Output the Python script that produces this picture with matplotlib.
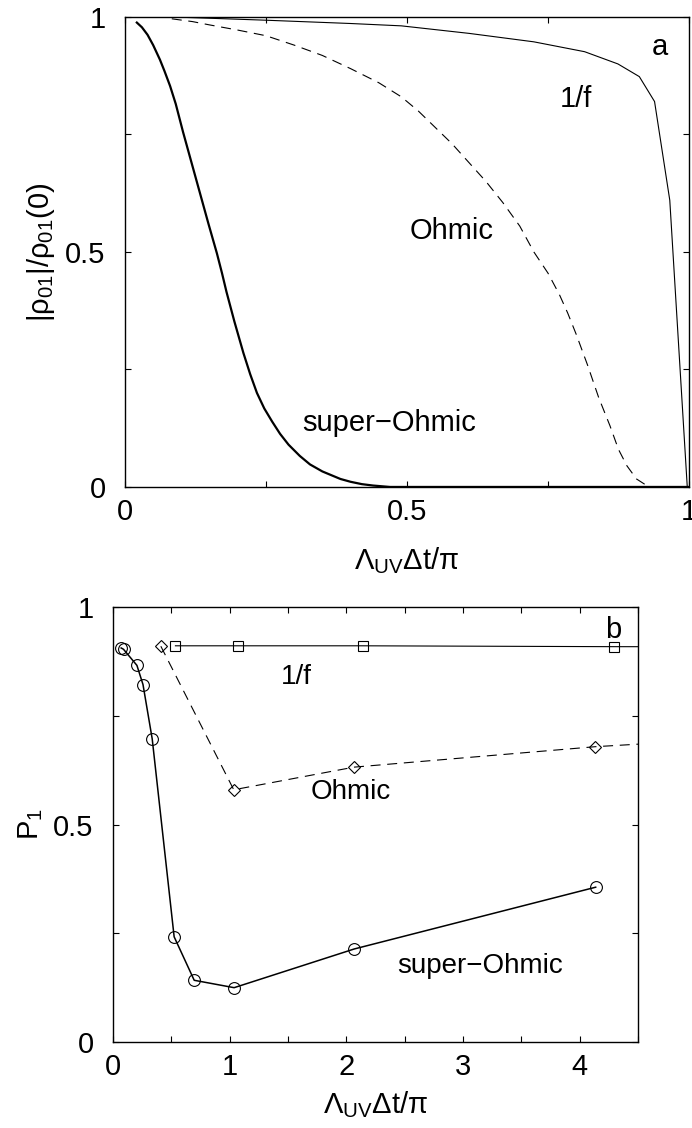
import numpy as np
import matplotlib
matplotlib.use("Agg")
import matplotlib.pyplot as plt
from matplotlib.ticker import MultipleLocator

plt.rcParams['font.family'] = ['Liberation Sans', 'DejaVu Sans']
plt.rcParams['mathtext.fontset'] = 'custom'
plt.rcParams['mathtext.rm'] = 'Liberation Sans'
plt.rcParams['mathtext.it'] = 'Liberation Sans'
plt.rcParams['mathtext.sf'] = 'Liberation Sans'

# panel a: coherence decay |rho01|/rho01(0) vs Lambda_UV dt / pi
sup_x = [0.021, 0.03, 0.04, 0.05, 0.062, 0.07, 0.08, 0.09, 0.103, 0.118,
         0.133, 0.148, 0.163, 0.172, 0.18, 0.194, 0.21, 0.222, 0.234, 0.247,
         0.261, 0.275, 0.29, 0.31, 0.328, 0.35, 0.382, 0.40, 0.42, 0.44,
         0.47, 1.0]
sup_y = [0.988, 0.978, 0.962, 0.94, 0.909, 0.885, 0.853, 0.815, 0.755, 0.69,
         0.625, 0.56, 0.497, 0.455, 0.415, 0.352, 0.285, 0.24, 0.2, 0.167,
         0.139, 0.113, 0.09, 0.066, 0.048, 0.033, 0.017, 0.011, 0.006, 0.003,
         0.0, 0.0]

ohm_x = [0.083, 0.12, 0.15, 0.2, 0.25, 0.30, 0.35, 0.40, 0.45, 0.49,
         0.52, 0.55, 0.58, 0.61, 0.64, 0.67, 0.70, 0.725, 0.75, 0.77,
         0.785, 0.80, 0.82, 0.84, 0.86, 0.875, 0.89, 0.907, 0.929]
ohm_y = [0.996, 0.99, 0.983, 0.972, 0.96, 0.94, 0.918, 0.89, 0.86, 0.83,
         0.80, 0.765, 0.73, 0.69, 0.65, 0.605, 0.555, 0.50, 0.455, 0.41,
         0.37, 0.325, 0.26, 0.19, 0.13, 0.08, 0.045, 0.017, 0.0]

onef_x = [0.083, 0.25, 0.40, 0.49, 0.61, 0.725, 0.815, 0.874, 0.912, 0.939, 0.966, 0.997]
onef_y = [1.0, 0.993, 0.986, 0.981, 0.965, 0.947, 0.926, 0.90, 0.873, 0.82, 0.61, 0.0]

# panel b: P1 vs Lambda_UV dt / pi
b_sup_x = [0.07, 0.09, 0.205, 0.257, 0.336, 0.524, 0.696, 1.038, 2.068, 4.137]
b_sup_y = [0.906, 0.903, 0.866, 0.822, 0.697, 0.242, 0.142, 0.125, 0.214, 0.356]

b_ohm_x = [0.41, 1.035, 2.065, 4.132, 8.28]
b_ohm_y = [0.910, 0.580, 0.632, 0.679, 0.745]

b_onef_x = [0.535, 1.072, 2.14, 4.292, 8.58]
b_onef_y = [0.911, 0.911, 0.911, 0.909, 0.908]

ticks_a = [0, 0.5, 1]
ticklabels_a = ['0', '0.5', '1']
xticks_b = [0, 1, 2, 3, 4]
xticklabels_b = ['0', '1', '2', '3', '4']

FS = 21

fig = plt.figure(figsize=(6.92, 11.28), dpi=100)
ax1 = fig.add_axes([0.1806, 0.5683, 0.815, 0.4167])
ax2 = fig.add_axes([0.1633, 0.0762, 0.7587, 0.3856])

for ax in (ax1, ax2):
    ax.tick_params(which='both', direction='in', top=True, right=True,
                   length=4.5, width=0.8, labelsize=FS, pad=8)
    ax.tick_params(axis='y', pad=14)
    for s in ax.spines.values():
        s.set_linewidth(1.0)

# top panel
ax1.plot(sup_x, sup_y, color='black', lw=1.6, solid_joinstyle='round')
ax1.plot(ohm_x, ohm_y, color='black', lw=0.8, linestyle=(0, (9, 6)))
ax1.plot(onef_x, onef_y, color='black', lw=0.8)
ax1.set_xlim(0, 1)
ax1.set_ylim(0, 1)
ax1.set_xticks(ticks_a)
ax1.set_xticklabels(ticklabels_a)
ax1.set_yticks(ticks_a)
ax1.set_yticklabels(ticklabels_a)
ax1.xaxis.set_minor_locator(MultipleLocator(0.25))
ax1.yaxis.set_minor_locator(MultipleLocator(0.25))
ax1.set_xlabel(r'$\Lambda_{\rm UV}\Delta t/\pi$', fontsize=FS, labelpad=14)
ax1.set_ylabel(r'$|\rho_{01}|/\rho_{01}(0)$', fontsize=FS, labelpad=6)
ax1.text(0.949, 0.936, 'a', fontsize=FS, ha='center', va='center')
ax1.text(0.80, 0.826, '1/f', fontsize=FS, ha='center', va='center')
ax1.text(0.58, 0.545, 'Ohmic', fontsize=FS, ha='center', va='center')
ax1.text(0.469, 0.136, 'super\u2212Ohmic', fontsize=FS, ha='center', va='center')

# bottom panel
ax2.plot(b_sup_x, b_sup_y, color='black', lw=1.1, marker='o', ms=8.5,
         mfc='none', mec='black', mew=0.8)
ax2.plot(b_ohm_x, b_ohm_y, color='black', lw=0.8, linestyle=(0, (9, 6)),
         marker='D', ms=6, mfc='none', mec='black', mew=0.8)
ax2.plot(b_onef_x, b_onef_y, color='black', lw=0.8, marker='s', ms=7,
         mfc='none', mec='black', mew=0.8)
ax2.set_xlim(0, 4.5)
ax2.set_ylim(0, 1)
ax2.set_xticks(xticks_b)
ax2.set_xticklabels(xticklabels_b)
ax2.set_yticks(ticks_a)
ax2.set_yticklabels(ticklabels_a)
ax2.xaxis.set_minor_locator(MultipleLocator(0.5))
ax2.yaxis.set_minor_locator(MultipleLocator(0.25))
ax2.set_xlabel(r'$\Lambda_{\rm UV}\Delta t/\pi$', fontsize=FS, labelpad=6)
ax2.set_ylabel(r'$P_1$', fontsize=FS, labelpad=6)
ax2.text(4.283, 0.948, 'b', fontsize=FS, ha='center', va='center')
ax2.text(1.568, 0.84, '1/f', fontsize=FS - 1, ha='center', va='center')
ax2.text(2.04, 0.575, 'Ohmic', fontsize=FS - 1, ha='center', va='center')
ax2.text(3.15, 0.175, 'super\u2212Ohmic', fontsize=FS - 1, ha='center', va='center')

fig.savefig('out.png', dpi=100)
